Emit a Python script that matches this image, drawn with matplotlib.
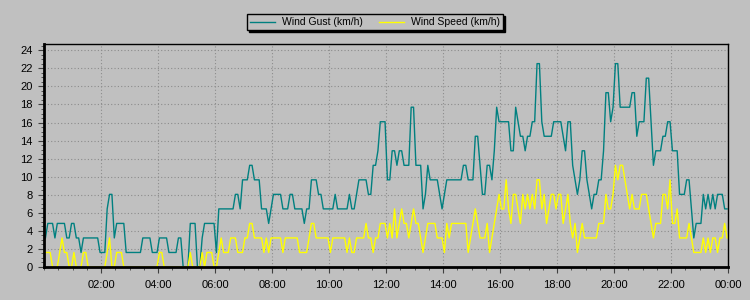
import matplotlib
matplotlib.use('Agg')
import matplotlib.pyplot as plt
import matplotlib.dates as mdates
from matplotlib.ticker import MultipleLocator, FixedLocator
import numpy as np
import pandas as pd

# readings every 5 min, stored as whole mph and shown in km/h
MPH_TO_KMH = 1.609

gust_mph = [
    2, 3, 3, 3, 2, 3, 3, 3, 3, 2, 2, 3,
    3, 2, 2, 1, 2, 2, 2, 2, 2, 2, 2, 1,
    1, 1, 4, 5, 5, 2, 3, 3, 3, 3, 1, 1,
    1, 1, 1, 1, 1, 2, 2, 2, 2, 1, 1, 1,
    2, 2, 2, 2, 1, 1, 1, 1, 2, 2, 0, 0,
    0, 3, 3, 3, 0, 0, 2, 3, 3, 3, 3, 3,
    1, 4, 4, 4, 4, 4, 4, 4, 5, 5, 4, 6,
    6, 6, 7, 7, 6, 6, 6, 4, 4, 4, 3, 4,
    5, 5, 5, 5, 4, 4, 4, 5, 5, 4, 4, 4,
    4, 3, 4, 4, 6, 6, 6, 5, 5, 4, 4, 4,
    4, 4, 5, 4, 4, 4, 4, 4, 5, 4, 4, 5,
    6, 6, 6, 6, 5, 5, 7, 7, 8, 10, 10, 10,
    6, 6, 8, 8, 7, 8, 8, 7, 7, 7, 11, 11,
    7, 7, 7, 4, 5, 7, 6, 6, 6, 6, 5, 4,
    5, 6, 6, 6, 6, 6, 6, 6, 7, 7, 6, 6,
    6, 9, 9, 7, 5, 5, 7, 7, 6, 8, 11, 10,
    10, 10, 10, 10, 8, 8, 11, 10, 9, 9, 8, 9,
    9, 10, 10, 14, 14, 10, 9, 9, 9, 9, 10, 10,
    10, 10, 9, 8, 10, 10, 7, 6, 5, 6, 8, 8,
    6, 5, 4, 5, 5, 6, 6, 8, 12, 12, 10, 11,
    14, 14, 11, 11, 11, 11, 11, 12, 12, 9, 10, 10,
    10, 13, 13, 10, 7, 8, 8, 8, 9, 9, 10, 10,
    8, 8, 8, 5, 5, 5, 6, 6, 4, 2, 3, 3,
    3, 5, 4, 5, 4, 5, 4, 5, 5, 5, 4, 4,
]

speed_mph = [
    1, 1, 1, 0, 0, 0, 1, 2, 1, 1, 0, 0,
    1, 0, 0, 0, 1, 1, 0, 0, 0, 0, 0, 0,
    0, 0, 1, 2, 0, 0, 1, 1, 1, 0, 0, 0,
    0, 0, 0, 0, 0, 0, 0, 0, 0, 0, 0, 0,
    1, 1, 0, 0, 0, 0, 0, 0, 0, 0, 0, 0,
    0, 1, 0, 0, 0, 0, 1, 0, 1, 1, 1, 0,
    0, 1, 2, 1, 1, 1, 2, 2, 2, 1, 1, 1,
    2, 2, 3, 3, 2, 2, 2, 2, 1, 2, 1, 2,
    2, 2, 2, 2, 1, 2, 2, 2, 2, 2, 2, 1,
    1, 1, 1, 2, 3, 3, 2, 2, 2, 2, 2, 2,
    1, 2, 2, 2, 2, 2, 2, 1, 2, 1, 1, 2,
    2, 2, 2, 3, 2, 2, 1, 2, 2, 3, 3, 3,
    2, 3, 2, 4, 2, 3, 4, 3, 3, 2, 3, 4,
    3, 3, 2, 1, 2, 3, 3, 3, 3, 2, 2, 2,
    1, 3, 2, 3, 3, 3, 3, 3, 3, 3, 1, 2,
    3, 4, 3, 2, 2, 2, 3, 1, 2, 3, 4, 5,
    4, 4, 6, 4, 3, 5, 5, 4, 3, 5, 4, 5,
    4, 5, 4, 6, 6, 4, 5, 3, 4, 5, 5, 4,
    5, 5, 3, 4, 5, 3, 2, 3, 1, 2, 3, 2,
    2, 2, 2, 2, 2, 3, 3, 3, 5, 4, 4, 5,
    7, 6, 7, 7, 6, 5, 4, 5, 4, 4, 4, 5,
    5, 5, 4, 3, 2, 3, 3, 3, 5, 5, 4, 6,
    3, 3, 4, 2, 2, 2, 2, 3, 2, 1, 1, 1,
    1, 2, 1, 2, 1, 2, 2, 1, 2, 2, 3, 2,
]

times = pd.date_range('2024-01-01 00:03', periods=len(gust_mph), freq='5min')
day_start = pd.Timestamp('2024-01-01 00:00')
day_end = pd.Timestamp('2024-01-02 00:00')
tick_times = pd.date_range('2024-01-01 02:00', '2024-01-02 00:00', freq='2h')

gust = np.array(gust_mph) * MPH_TO_KMH
speed = np.array(speed_mph) * MPH_TO_KMH

bg = '#c0c0c0'
plt.rcParams['font.family'] = ['Liberation Sans', 'DejaVu Sans']

fig = plt.figure(figsize=(7.5, 3), dpi=100, facecolor=bg)
ax = fig.add_axes([44 / 750, 33 / 300, 684 / 750, 223 / 300])
ax.set_facecolor(bg)

ax.plot(times, gust, color='#008080', lw=1, label='Wind Gust (km/h)')
ax.plot(times, speed, color='#ffff00', lw=1, label='Wind Speed (km/h)')

ax.set_xlim(day_start, day_end)
ax.set_ylim(0, 24.7)

ax.xaxis.set_major_locator(FixedLocator(mdates.date2num(tick_times)))
ax.xaxis.set_major_formatter(mdates.DateFormatter('%H:%M'))
ax.xaxis.set_minor_locator(mdates.MinuteLocator(byminute=[0, 30]))
ax.yaxis.set_major_locator(MultipleLocator(2))
ax.yaxis.set_minor_locator(MultipleLocator(0.5))

ax.grid(True, which='major', color='#8c8c8c', linestyle=(0, (1, 2)), lw=0.8)
ax.tick_params(which='major', length=4, width=0.8, color='#404040', labelsize=8, pad=4)
ax.tick_params(which='minor', length=2.5, width=0.6, color='#404040')
ax.tick_params(axis='x', pad=5)

for side in ['top', 'right']:
    ax.spines[side].set_linewidth(1)
for side in ['left', 'bottom']:
    ax.spines[side].set_linewidth(2)

fig.legend(loc='upper center', bbox_to_anchor=(0.5, 0.953), ncol=2, fontsize=7.5,
           frameon=True, fancybox=False, facecolor=bg, edgecolor='black',
           framealpha=1, shadow={'color': 'black', 'alpha': 1, 'ox': 1.5, 'oy': -1.5},
           handlelength=2.4, columnspacing=1.6, borderpad=0.3, handletextpad=0.6,
           borderaxespad=0)

fig.savefig('out.png', dpi=100, facecolor=bg)
